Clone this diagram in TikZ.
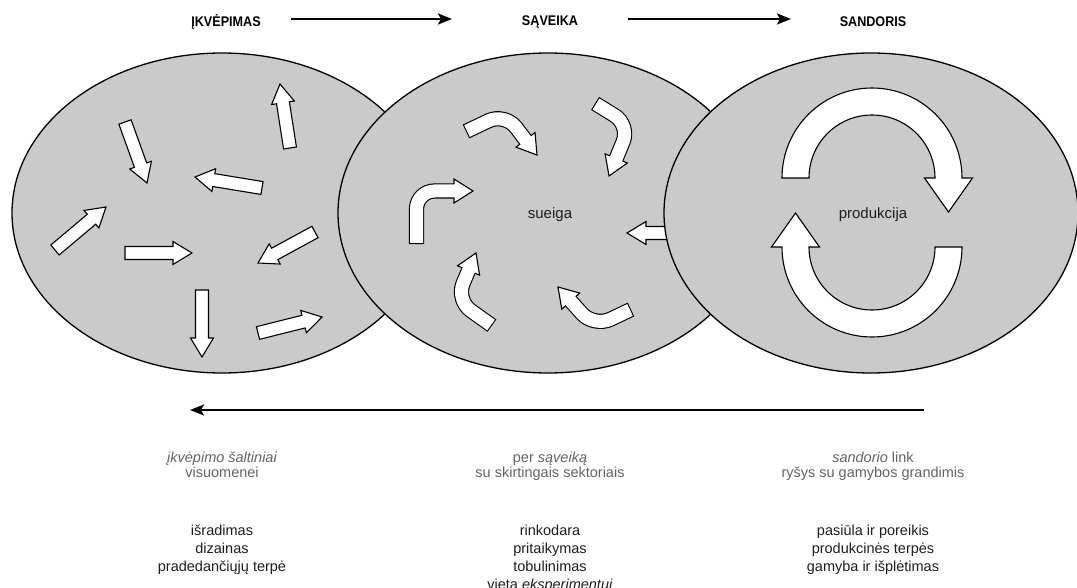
\documentclass[tikz,border=0pt]{standalone}
\usepackage{fontspec}
\setmainfont{Liberation Sans}
\newfontfamily\hdfont[FakeStretch=0.9]{Liberation Sans}
\usetikzlibrary{calc,arrows.meta}
\definecolor{ellfill}{RGB}{202,202,202}
\definecolor{graytext}{RGB}{100,100,100}
\definecolor{blacktext}{RGB}{30,30,30}
\tikzset{
  ell/.style={draw=black, line width=1.3pt, fill=ellfill},
  fat/.style={draw=black, line width=1.1pt, fill=white, line join=miter},
  flow/.style={line width=2.4pt, -{Stealth[length=14pt,width=11pt,inset=3pt]}},
  headlbl/.style={font=\hdfont\bfseries\fontsize{14}{16}\selectfont, inner sep=0},
  note/.style={font=\fontsize{14.5}{17}\selectfont, text=graytext, anchor=base, inner sep=0},
  item/.style={font=\fontsize{14.5}{17}\selectfont, text=blacktext, anchor=base, inner sep=0},
  midlbl/.style={font=\fontsize{15}{17}\selectfont, text=blacktext, inner sep=0},
}
\newcommand\fatarrow[2]{%
  \coordinate (fa-t) at (#1);
  \coordinate (fa-h) at (#2);
  \coordinate (fa-c) at ($(fa-h)!19pt!(fa-t)$);
  \draw[fat] ($(fa-t)!6.5pt!90:(fa-h)$) -- ($(fa-c)!6.5pt!90:(fa-h)$)
    -- ($(fa-c)!11.5pt!90:(fa-h)$) -- (fa-h) -- ($(fa-c)!11.5pt!-90:(fa-h)$)
    -- ($(fa-c)!6.5pt!-90:(fa-h)$) -- ($(fa-t)!6.5pt!-90:(fa-h)$) -- cycle;}
\newcommand\bentarrow[3]{%
  \coordinate (ba-t) at (#1);
  \coordinate (ba-k) at (#2);
  \coordinate (ba-h) at (#3);
  \coordinate (ba-c) at ($(ba-h)!19pt!(ba-k)$);
  \draw[line width=15.2pt, black, rounded corners=18pt, shorten <=-1.1pt] (ba-t) -- (ba-k) -- (ba-c);
  \draw[fat] ($(ba-c)!12pt!90:(ba-h)$) -- (ba-h) -- ($(ba-c)!12pt!-90:(ba-h)$) -- cycle;
  \draw[line width=13pt, white, rounded corners=18pt, shorten >=-2pt] (ba-t) -- (ba-k) -- (ba-c);}
\begin{document}
\begin{tikzpicture}[x=1pt, y=-1pt]
\useasboundingbox (0,0) rectangle (1077,588);
\fill[white] (0,0) rectangle (1077,588);

% headings and flow arrows
\node[headlbl] (h1) at (226,22) {ĮKVĖPIMAS};
\node[headlbl] (h2) at (550,22) {SĄVEIKA};
\node[headlbl] (h3) at (873,22) {SANDORIS};
\coordinate (f1s) at (291,19);
\coordinate (f1e) at (452,19);
\coordinate (f2s) at (628,19);
\coordinate (f2e) at (791,19);
\draw[flow] (f1s) -- (f1e);
\draw[flow] (f2s) -- (f2e);

% ellipse 1
\coordinate (c1) at (222,213);
\draw[ell] (c1) ellipse [x radius=210, y radius=160];
\fatarrow{290,148}{280,84}
\fatarrow{125,122}{147,183}
\fatarrow{262,188}{195,177}
\fatarrow{55,250}{106,207}
\fatarrow{125,253}{192,253}
\fatarrow{315,232}{258,263}
\fatarrow{202,290}{202,357}
\fatarrow{258,333}{322,317}

% ellipse 2
\coordinate (c2) at (548,213);
\draw[ell] (c2) ellipse [x radius=210, y radius=160];
\node[midlbl] (m2) at (550,215) {sueiga};
\bentarrow{467,131}{505,113}{537,155}
\bentarrow{596,104}{630,125}{609,176}
\bentarrow{416.5,243}{416.5,191}{473,191}
\bentarrow{491,325}{456,300}{476,253}
\bentarrow{630,310}{594,327}{558,287}
\fatarrow{700,233}{627,233}

% ellipse 3
\coordinate (c3) at (871,213);
\draw[ell] (c3) ellipse [x radius=207, y radius=160];
\node[midlbl] (m3) at (873,215) {produkcija};
\draw[fat] (782,178) arc[start angle=180, end angle=360, radius=90]
  -- (972.5,178) -- (948.5,212) -- (924.5,178) -- (935,178)
  arc[start angle=360, end angle=180, radius=63] -- cycle;
\draw[fat] (962,247) arc[start angle=0, end angle=180, radius=90]
  -- (771.5,247) -- (795.5,213) -- (819.5,247) -- (809,247)
  arc[start angle=180, end angle=0, radius=63] -- cycle;

% return arrow
\coordinate (r1) at (924,410);
\coordinate (r2) at (190,410);
\draw[flow] (r1) -- (r2);

% notes
\node[note] (n1a) at (222,462) {\itshape įkvėpimo šaltiniai};
\node[note] (n1b) at (222,477) {visuomenei};
\node[note] (n2a) at (550,462) {per \textit{sąveiką}};
\node[note] (n2b) at (550,477) {su skirtingais sektoriais};
\node[note] (n3a) at (873,462) {\textit{sandorio} link};
\node[note] (n3b) at (873,477) {ryšys su gamybos grandimis};

% items
\node[item] (i1a) at (222,535) {išradimas};
\node[item] (i1b) at (222,553) {dizainas};
\node[item] (i1c) at (222,571) {pradedančiųjų terpė};
\node[item] (i2a) at (550,535) {rinkodara};
\node[item] (i2b) at (550,553) {pritaikymas};
\node[item] (i2c) at (550,571) {tobulinimas};
\node[item] (i2d) at (550,589) {vieta \textit{eksperimentui}};
\node[item] (i3a) at (873,535) {pasiūla ir poreikis};
\node[item] (i3b) at (873,553) {produkcinės terpės};
\node[item] (i3c) at (873,571) {gamyba ir išplėtimas};
\end{tikzpicture}
\end{document}
